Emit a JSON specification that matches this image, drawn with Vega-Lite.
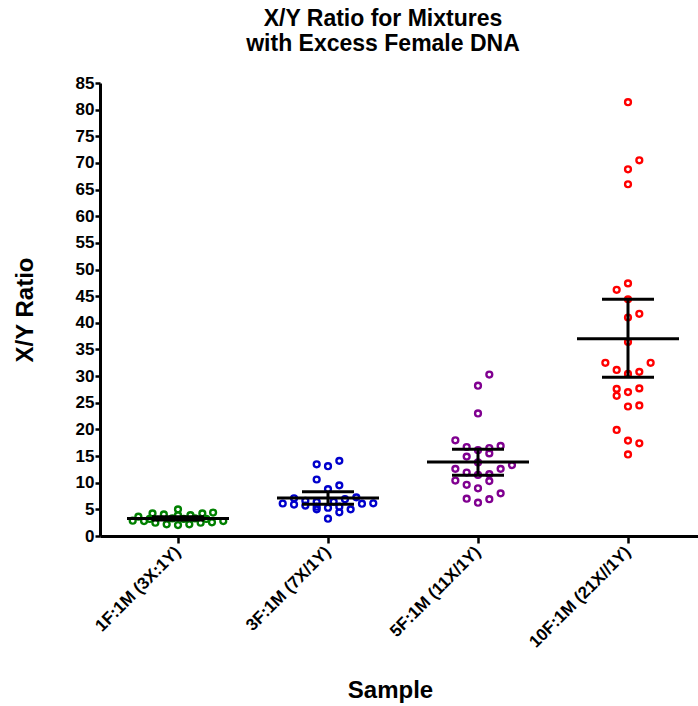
{
  "$schema": "https://vega.github.io/schema/vega-lite/v6.json",
  "width": 598,
  "height": 453,
  "autosize": {"type": "none"},
  "padding": {"left": 100, "top": 83, "right": 0, "bottom": 170},
  "background": "white",
  "config": {
    "view": {"stroke": null},
    "font": "Liberation Sans",
    "axis": {
      "domainColor": "black",
      "domainWidth": 3,
      "tickColor": "black",
      "tickWidth": 2.5,
      "labelFont": "Liberation Sans",
      "labelFontWeight": "bold",
      "labelColor": "black",
      "labelOverlap": false,
      "labelFlush": false,
      "titleFont": "Liberation Sans",
      "titleFontWeight": "bold",
      "titleColor": "black",
      "titleFontSize": 24,
      "grid": false
    }
  },
  "title": {
    "text": ["X/Y Ratio for Mixtures", "with Excess Female DNA"],
    "font": "Liberation Sans",
    "fontSize": 23,
    "fontWeight": "bold",
    "color": "black",
    "anchor": "middle",
    "dx": -16,
    "offset": 18,
    "lineHeight": 25
  },
  "datasets": {
    "points": [
      {"sample": "1F:1M (3X:1Y)", "ratio": 2.87, "slot": -8},
      {"sample": "1F:1M (3X:1Y)", "ratio": 3.62, "slot": -7},
      {"sample": "1F:1M (3X:1Y)", "ratio": 2.81, "slot": -6},
      {"sample": "1F:1M (3X:1Y)", "ratio": 3.2, "slot": -5},
      {"sample": "1F:1M (3X:1Y)", "ratio": 4.25, "slot": -4.5},
      {"sample": "1F:1M (3X:1Y)", "ratio": 2.5, "slot": -4},
      {"sample": "1F:1M (3X:1Y)", "ratio": 4.05, "slot": -2.5},
      {"sample": "1F:1M (3X:1Y)", "ratio": 2.2, "slot": -2},
      {"sample": "1F:1M (3X:1Y)", "ratio": 3.3, "slot": -1},
      {"sample": "1F:1M (3X:1Y)", "ratio": 2.06, "slot": 0},
      {"sample": "1F:1M (3X:1Y)", "ratio": 3.9, "slot": 0},
      {"sample": "1F:1M (3X:1Y)", "ratio": 5.0, "slot": 0},
      {"sample": "1F:1M (3X:1Y)", "ratio": 3.2, "slot": 1},
      {"sample": "1F:1M (3X:1Y)", "ratio": 3.9, "slot": 2.2},
      {"sample": "1F:1M (3X:1Y)", "ratio": 2.2, "slot": 2},
      {"sample": "1F:1M (3X:1Y)", "ratio": 3.3, "slot": 3},
      {"sample": "1F:1M (3X:1Y)", "ratio": 4.25, "slot": 4.3},
      {"sample": "1F:1M (3X:1Y)", "ratio": 2.5, "slot": 4},
      {"sample": "1F:1M (3X:1Y)", "ratio": 3.2, "slot": 5},
      {"sample": "1F:1M (3X:1Y)", "ratio": 4.4, "slot": 6.2},
      {"sample": "1F:1M (3X:1Y)", "ratio": 2.57, "slot": 6},
      {"sample": "1F:1M (3X:1Y)", "ratio": 2.81, "slot": 8},

      {"sample": "3F:1M (7X/1Y)", "ratio": 7.07, "slot": -6},
      {"sample": "3F:1M (7X/1Y)", "ratio": 6.6, "slot": -4},
      {"sample": "3F:1M (7X/1Y)", "ratio": 6.4, "slot": -2},
      {"sample": "3F:1M (7X/1Y)", "ratio": 6.45, "slot": 1},
      {"sample": "3F:1M (7X/1Y)", "ratio": 6.9, "slot": 3},
      {"sample": "3F:1M (7X/1Y)", "ratio": 7.25, "slot": 5},
      {"sample": "3F:1M (7X/1Y)", "ratio": 6.1, "slot": -8},
      {"sample": "3F:1M (7X/1Y)", "ratio": 5.9, "slot": -6},
      {"sample": "3F:1M (7X/1Y)", "ratio": 5.7, "slot": -4},
      {"sample": "3F:1M (7X/1Y)", "ratio": 5.5, "slot": -2},
      {"sample": "3F:1M (7X/1Y)", "ratio": 5.0, "slot": -2},
      {"sample": "3F:1M (7X/1Y)", "ratio": 5.3, "slot": 0},
      {"sample": "3F:1M (7X/1Y)", "ratio": 5.5, "slot": 2},
      {"sample": "3F:1M (7X/1Y)", "ratio": 4.45, "slot": 2},
      {"sample": "3F:1M (7X/1Y)", "ratio": 5.0, "slot": 4},
      {"sample": "3F:1M (7X/1Y)", "ratio": 6.06, "slot": 6},
      {"sample": "3F:1M (7X/1Y)", "ratio": 6.13, "slot": 8},
      {"sample": "3F:1M (7X/1Y)", "ratio": 8.8, "slot": 0},
      {"sample": "3F:1M (7X/1Y)", "ratio": 9.5, "slot": 2},
      {"sample": "3F:1M (7X/1Y)", "ratio": 10.6, "slot": -2},
      {"sample": "3F:1M (7X/1Y)", "ratio": 13.45, "slot": -2},
      {"sample": "3F:1M (7X/1Y)", "ratio": 13.1, "slot": 0},
      {"sample": "3F:1M (7X/1Y)", "ratio": 14.1, "slot": 2},
      {"sample": "3F:1M (7X/1Y)", "ratio": 3.25, "slot": 0},

      {"sample": "5F:1M (11X/1Y)", "ratio": 30.3, "slot": 2},
      {"sample": "5F:1M (11X/1Y)", "ratio": 28.2, "slot": 0},
      {"sample": "5F:1M (11X/1Y)", "ratio": 23.0, "slot": 0},
      {"sample": "5F:1M (11X/1Y)", "ratio": 17.95, "slot": -4},
      {"sample": "5F:1M (11X/1Y)", "ratio": 16.7, "slot": -2},
      {"sample": "5F:1M (11X/1Y)", "ratio": 16.1, "slot": 0},
      {"sample": "5F:1M (11X/1Y)", "ratio": 16.5, "slot": 2},
      {"sample": "5F:1M (11X/1Y)", "ratio": 16.9, "slot": 4},
      {"sample": "5F:1M (11X/1Y)", "ratio": 14.9, "slot": -2},
      {"sample": "5F:1M (11X/1Y)", "ratio": 15.5, "slot": 2},
      {"sample": "5F:1M (11X/1Y)", "ratio": 13.8, "slot": 0},
      {"sample": "5F:1M (11X/1Y)", "ratio": 13.3, "slot": 6},
      {"sample": "5F:1M (11X/1Y)", "ratio": 12.6, "slot": -4},
      {"sample": "5F:1M (11X/1Y)", "ratio": 11.9, "slot": -2},
      {"sample": "5F:1M (11X/1Y)", "ratio": 11.45, "slot": 0},
      {"sample": "5F:1M (11X/1Y)", "ratio": 11.6, "slot": 2},
      {"sample": "5F:1M (11X/1Y)", "ratio": 12.6, "slot": 4},
      {"sample": "5F:1M (11X/1Y)", "ratio": 10.4, "slot": -4},
      {"sample": "5F:1M (11X/1Y)", "ratio": 9.6, "slot": -2},
      {"sample": "5F:1M (11X/1Y)", "ratio": 8.95, "slot": 0},
      {"sample": "5F:1M (11X/1Y)", "ratio": 10.3, "slot": 2},
      {"sample": "5F:1M (11X/1Y)", "ratio": 8.0, "slot": 4},
      {"sample": "5F:1M (11X/1Y)", "ratio": 7.0, "slot": -2},
      {"sample": "5F:1M (11X/1Y)", "ratio": 6.25, "slot": 0},
      {"sample": "5F:1M (11X/1Y)", "ratio": 6.9, "slot": 2},

      {"sample": "10F:1M (21X//1Y)", "ratio": 81.4, "slot": 0},
      {"sample": "10F:1M (21X//1Y)", "ratio": 70.5, "slot": 2},
      {"sample": "10F:1M (21X//1Y)", "ratio": 68.8, "slot": 0},
      {"sample": "10F:1M (21X//1Y)", "ratio": 66.0, "slot": 0},
      {"sample": "10F:1M (21X//1Y)", "ratio": 47.4, "slot": 0},
      {"sample": "10F:1M (21X//1Y)", "ratio": 46.2, "slot": -2},
      {"sample": "10F:1M (21X//1Y)", "ratio": 44.4, "slot": 0},
      {"sample": "10F:1M (21X//1Y)", "ratio": 41.0, "slot": 0},
      {"sample": "10F:1M (21X//1Y)", "ratio": 41.7, "slot": 2},
      {"sample": "10F:1M (21X//1Y)", "ratio": 36.4, "slot": 0},
      {"sample": "10F:1M (21X//1Y)", "ratio": 32.5, "slot": -4},
      {"sample": "10F:1M (21X//1Y)", "ratio": 32.5, "slot": 4},
      {"sample": "10F:1M (21X//1Y)", "ratio": 31.15, "slot": -2},
      {"sample": "10F:1M (21X//1Y)", "ratio": 30.4, "slot": 0},
      {"sample": "10F:1M (21X//1Y)", "ratio": 30.8, "slot": 2},
      {"sample": "10F:1M (21X//1Y)", "ratio": 27.6, "slot": -2},
      {"sample": "10F:1M (21X//1Y)", "ratio": 26.3, "slot": -2},
      {"sample": "10F:1M (21X//1Y)", "ratio": 27.0, "slot": 0},
      {"sample": "10F:1M (21X//1Y)", "ratio": 27.7, "slot": 2},
      {"sample": "10F:1M (21X//1Y)", "ratio": 24.3, "slot": 0},
      {"sample": "10F:1M (21X//1Y)", "ratio": 24.5, "slot": 2},
      {"sample": "10F:1M (21X//1Y)", "ratio": 19.9, "slot": -2},
      {"sample": "10F:1M (21X//1Y)", "ratio": 17.9, "slot": 0},
      {"sample": "10F:1M (21X//1Y)", "ratio": 17.4, "slot": 2},
      {"sample": "10F:1M (21X//1Y)", "ratio": 15.3, "slot": 0}
    ],
    "stats": [
      {"sample": "1F:1M (3X:1Y)", "mean": 3.3, "lo": 3.0, "hi": 3.6},
      {"sample": "3F:1M (7X/1Y)", "mean": 7.15, "lo": 5.95, "hi": 8.3},
      {"sample": "5F:1M (11X/1Y)", "mean": 13.9, "lo": 11.4, "hi": 16.3},
      {"sample": "10F:1M (21X//1Y)", "mean": 37.0, "lo": 29.8, "hi": 44.4}
    ]
  },
  "layer": [
    {
      "data": {"name": "points"},
      "mark": {"type": "point", "shape": "circle", "filled": false, "strokeWidth": 2.4, "size": 34, "opacity": 1},
      "encoding": {
        "x": {
          "field": "sample", "type": "nominal", "title": "Sample",
          "scale": {"domain": ["1F:1M (3X:1Y)", "3F:1M (7X/1Y)", "5F:1M (11X/1Y)", "10F:1M (21X//1Y)"], "range": [0, 606], "paddingInner": 0, "paddingOuter": 0.02},
          "axis": {"labelAngle": -45, "labelAlign": "right", "labelBaseline": "middle", "labelFontSize": 17, "labelPadding": 6, "tickSize": 7, "titlePadding": 28, "titleX": 290, "titleAlign": "center"}
        },
        "xOffset": {"field": "slot", "type": "quantitative", "scale": {"domain": [-13.25, 13.25]}},
        "y": {
          "field": "ratio", "type": "quantitative", "title": "X/Y Ratio",
          "scale": {"domain": [0, 85], "nice": false},
          "axis": {"values": [0, 5, 10, 15, 20, 25, 30, 35, 40, 45, 50, 55, 60, 65, 70, 75, 80, 85], "labelFontSize": 17, "labelPadding": 1, "tickSize": 5, "titlePadding": 38, "labelOverlap": false}
        },
        "color": {
          "field": "sample", "type": "nominal", "legend": null,
          "scale": {"domain": ["1F:1M (3X:1Y)", "3F:1M (7X/1Y)", "5F:1M (11X/1Y)", "10F:1M (21X//1Y)"], "range": ["#008000", "#0000cc", "#800090", "#ff0000"]}
        }
      }
    },
    {
      "data": {"name": "stats"},
      "mark": {"type": "tick", "color": "black", "thickness": 3, "size": 102, "opacity": 1},
      "encoding": {
        "x": {"field": "sample", "type": "nominal", "title": "Sample"},
        "y": {"field": "mean", "type": "quantitative", "title": "X/Y Ratio",
          "axis": {"values": [0, 5, 10, 15, 20, 25, 30, 35, 40, 45, 50, 55, 60, 65, 70, 75, 80, 85], "labelFontSize": 17, "labelPadding": 1, "tickSize": 5, "titlePadding": 38, "labelOverlap": false}}
      }
    },
    {
      "data": {"name": "stats"},
      "mark": {"type": "tick", "color": "black", "thickness": 3, "size": 52, "opacity": 1},
      "encoding": {
        "x": {"field": "sample", "type": "nominal", "title": "Sample"},
        "y": {"field": "lo", "type": "quantitative", "title": "X/Y Ratio",
          "axis": {"values": [0, 5, 10, 15, 20, 25, 30, 35, 40, 45, 50, 55, 60, 65, 70, 75, 80, 85], "labelFontSize": 17, "labelPadding": 1, "tickSize": 5, "titlePadding": 38, "labelOverlap": false}}
      }
    },
    {
      "data": {"name": "stats"},
      "mark": {"type": "tick", "color": "black", "thickness": 3, "size": 52, "opacity": 1},
      "encoding": {
        "x": {"field": "sample", "type": "nominal", "title": "Sample"},
        "y": {"field": "hi", "type": "quantitative", "title": "X/Y Ratio",
          "axis": {"values": [0, 5, 10, 15, 20, 25, 30, 35, 40, 45, 50, 55, 60, 65, 70, 75, 80, 85], "labelFontSize": 17, "labelPadding": 1, "tickSize": 5, "titlePadding": 38, "labelOverlap": false}}
      }
    },
    {
      "data": {"name": "stats"},
      "mark": {"type": "rule", "color": "black", "strokeWidth": 3},
      "encoding": {
        "x": {"field": "sample", "type": "nominal", "title": "Sample"},
        "y": {"field": "lo", "type": "quantitative", "title": "X/Y Ratio",
          "axis": {"values": [0, 5, 10, 15, 20, 25, 30, 35, 40, 45, 50, 55, 60, 65, 70, 75, 80, 85], "labelFontSize": 17, "labelPadding": 1, "tickSize": 5, "titlePadding": 38, "labelOverlap": false}},
        "y2": {"field": "hi"}
      }
    }
  ]
}
